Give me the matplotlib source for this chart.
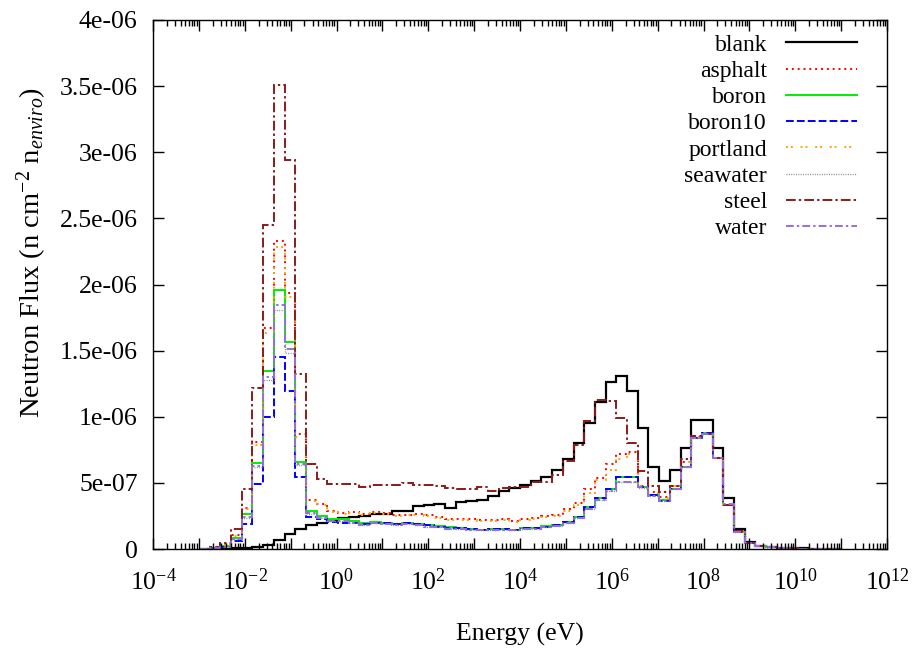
import numpy as np
import matplotlib
matplotlib.use("Agg")
import matplotlib.pyplot as plt
from matplotlib.ticker import FixedLocator, FuncFormatter, LogLocator, NullFormatter

plt.rcParams['font.family'] = ['Liberation Serif', 'DejaVu Serif']
plt.rcParams['mathtext.fontset'] = 'custom'
plt.rcParams['mathtext.rm'] = 'Liberation Serif'
plt.rcParams['mathtext.it'] = 'Liberation Serif:italic'

# energy bins: 60 log-spaced bins between 1e-3 and 1e11 eV
edges = np.logspace(-3, 11, 61)

# flux per bin, in units of 1e-6 n cm^-2 per source neutron
blank = [0.0, 0.0, 0.002, 0.004, 0.006, 0.015, 0.033, 0.068, 0.113, 0.148,
         0.18, 0.196, 0.221, 0.234, 0.245, 0.252, 0.261, 0.265, 0.287, 0.29,
         0.327, 0.33, 0.342, 0.312, 0.354, 0.362, 0.372, 0.40, 0.435, 0.46,
         0.487, 0.515, 0.543, 0.60, 0.68, 0.80, 0.95, 1.11, 1.26, 1.31,
         1.195, 0.915, 0.618, 0.512, 0.60, 0.766, 0.978, 0.976, 0.767, 0.382,
         0.148, 0.053, 0.023, 0.015, 0.01, 0.006, 0.004, 0.003, 0.002, 0.001]
asphalt = [0.002, 0.01, 0.033, 0.108, 0.31, 0.806, 1.674, 2.332, 1.937, 0.87,
           0.367, 0.342, 0.286, 0.272, 0.28, 0.265, 0.28, 0.27, 0.258, 0.26,
           0.261, 0.258, 0.241, 0.229, 0.229, 0.225, 0.216, 0.221, 0.229, 0.211,
           0.229, 0.236, 0.246, 0.26, 0.30, 0.35, 0.455, 0.54, 0.64, 0.715,
           0.73, 0.48, 0.43, 0.39, 0.48, 0.66, 0.85, 0.872, 0.688, 0.335,
           0.13, 0.046, 0.02, 0.013, 0.008, 0.005, 0.003, 0.002, 0.001, 0.001]
boron = [0.001, 0.006, 0.02, 0.08, 0.262, 0.653, 1.347, 1.955, 1.565, 0.66,
         0.284, 0.246, 0.229, 0.229, 0.211, 0.195, 0.204, 0.198, 0.19, 0.196,
         0.19, 0.178, 0.171, 0.163, 0.16, 0.153, 0.146, 0.153, 0.15, 0.146,
         0.16, 0.162, 0.171, 0.183, 0.204, 0.245, 0.317, 0.387, 0.455, 0.543,
         0.543, 0.47, 0.405, 0.37, 0.455, 0.623, 0.84, 0.874, 0.686, 0.33,
         0.13, 0.045, 0.02, 0.013, 0.008, 0.005, 0.003, 0.002, 0.001, 0.001]
boron10 = [0.001, 0.004, 0.012, 0.063, 0.192, 0.49, 1.0, 1.455, 1.196, 0.543,
           0.241, 0.229, 0.205, 0.2, 0.2, 0.19, 0.2, 0.195, 0.19, 0.195,
           0.188, 0.178, 0.17, 0.162, 0.158, 0.15, 0.145, 0.15, 0.148, 0.145,
           0.158, 0.16, 0.17, 0.182, 0.204, 0.245, 0.317, 0.387, 0.455, 0.543,
           0.543, 0.47, 0.405, 0.365, 0.455, 0.623, 0.84, 0.874, 0.686, 0.33,
           0.13, 0.045, 0.02, 0.013, 0.008, 0.005, 0.003, 0.002, 0.001, 0.001]
portland = [0.002, 0.009, 0.03, 0.1, 0.30, 0.79, 1.636, 2.28, 1.905, 0.845,
            0.36, 0.335, 0.28, 0.266, 0.272, 0.258, 0.272, 0.262, 0.25, 0.254,
            0.254, 0.25, 0.235, 0.222, 0.222, 0.22, 0.21, 0.215, 0.222, 0.205,
            0.222, 0.23, 0.24, 0.25, 0.285, 0.33, 0.42, 0.52, 0.60, 0.68,
            0.72, 0.475, 0.425, 0.385, 0.475, 0.655, 0.85, 0.872, 0.688, 0.335,
            0.13, 0.046, 0.02, 0.013, 0.008, 0.005, 0.003, 0.002, 0.001, 0.001]
seawater = [0.001, 0.005, 0.018, 0.075, 0.235, 0.62, 1.28, 1.81, 1.485, 0.635,
            0.268, 0.235, 0.212, 0.212, 0.2, 0.185, 0.194, 0.188, 0.18, 0.186,
            0.18, 0.17, 0.163, 0.155, 0.152, 0.146, 0.14, 0.146, 0.143, 0.14,
            0.153, 0.155, 0.165, 0.176, 0.196, 0.235, 0.30, 0.37, 0.44, 0.505,
            0.51, 0.465, 0.40, 0.365, 0.45, 0.62, 0.838, 0.872, 0.686, 0.33,
            0.128, 0.045, 0.02, 0.013, 0.008, 0.005, 0.003, 0.002, 0.001, 0.001]
steel = [0.003, 0.015, 0.048, 0.148, 0.452, 1.216, 2.45, 3.51, 2.94, 1.325,
         0.645, 0.53, 0.49, 0.492, 0.49, 0.467, 0.487, 0.487, 0.487, 0.50,
         0.487, 0.487, 0.48, 0.458, 0.455, 0.455, 0.47, 0.44, 0.46, 0.467,
         0.47, 0.505, 0.51, 0.56, 0.668, 0.79, 0.965, 1.125, 1.12, 0.99,
         0.80, 0.59, 0.475, 0.428, 0.48, 0.68, 0.852, 0.866, 0.686, 0.335,
         0.135, 0.047, 0.02, 0.013, 0.008, 0.005, 0.003, 0.002, 0.001, 0.001]
water = [0.001, 0.005, 0.018, 0.075, 0.24, 0.63, 1.30, 1.844, 1.51, 0.643,
         0.27, 0.235, 0.215, 0.215, 0.2, 0.185, 0.194, 0.188, 0.18, 0.186,
         0.18, 0.17, 0.163, 0.155, 0.152, 0.146, 0.14, 0.146, 0.143, 0.14,
         0.153, 0.155, 0.165, 0.176, 0.196, 0.235, 0.30, 0.37, 0.44, 0.505,
         0.51, 0.467, 0.40, 0.365, 0.45, 0.62, 0.838, 0.872, 0.688, 0.337,
         0.128, 0.045, 0.02, 0.013, 0.008, 0.005, 0.003, 0.002, 0.001, 0.001]

names = ['blank', 'asphalt', 'boron', 'boron10', 'portland', 'seawater', 'steel', 'water']
series = [blank, asphalt, boron, boron10, portland, seawater, steel, water]
colors = ['black', '#ff0000', '#00ee00', '#0000ff', '#ffa500', '#888888', '#8b1a1a', '#9370db']
dashes = [None, (1.0, 2.0), None, (4.0, 1.6), (1.0, 1.5, 1.0, 4.0),
          (0.7, 1.0), (5.0, 1.6, 1.2, 1.6), (4.0, 1.6, 1.2, 1.6)]
widths = [1.6, 1.4, 1.4, 1.4, 1.4, 1.0, 1.4, 1.4]

fig = plt.figure(figsize=(9.15, 6.51), dpi=100)
ax = fig.add_axes([153 / 915, 102 / 651, 734 / 915, 529 / 651])

for name, vals, col, dsh, lw in zip(names, series, colors, dashes, widths):
    st = ax.stairs(np.array(vals) * 1e-6, edges, baseline=None, color=col,
                   linewidth=lw, label=name)
    if dsh is not None:
        st.set_linestyle((0, dsh))

ax.set_xscale('log')
ax.set_xlim(1e-4, 1e12)
ax.set_ylim(0, 4e-6)

ax.xaxis.set_major_locator(FixedLocator(10.0 ** np.arange(-4, 13)))
ax.xaxis.set_major_formatter(FuncFormatter(
    lambda v, p: r'$\mathregular{10^{%d}}$' % round(np.log10(v)) if round(np.log10(v)) % 2 == 0 else ''))
ax.xaxis.set_minor_locator(LogLocator(base=10, subs=np.arange(2, 10), numticks=40))
ax.xaxis.set_minor_formatter(NullFormatter())

ax.set_yticks(np.arange(0, 4.01e-6, 0.5e-6))
ax.yaxis.set_major_formatter(FuncFormatter(lambda v, p: '0' if v == 0 else '%g' % v))

ax.tick_params(which='both', direction='in', top=True, right=True, width=1.0)
ax.tick_params(axis='y', labelsize=18.5, pad=11)
ax.tick_params(axis='x', labelsize=18.5, pad=14)
ax.tick_params(which='major', length=8)
ax.tick_params(which='minor', length=4)
for s in ax.spines.values():
    s.set_linewidth(1.0)

ax.set_xlabel('Energy (eV)', fontsize=18.5, labelpad=20)
ax.set_ylabel(r'Neutron Flux (n cm$^{\mathregular{-2}}$ n$_{\mathit{enviro}}$)', fontsize=20.5)
ax.yaxis.set_label_coords(-0.142, 0.56)

ax.legend(loc='upper right', frameon=False, markerfirst=False, fontsize=17,
          handlelength=3.0, handletextpad=0.8, labelspacing=0.2,
          borderaxespad=0.2, bbox_to_anchor=(0.978, 1.0))

fig.savefig('out.png', dpi=100)
